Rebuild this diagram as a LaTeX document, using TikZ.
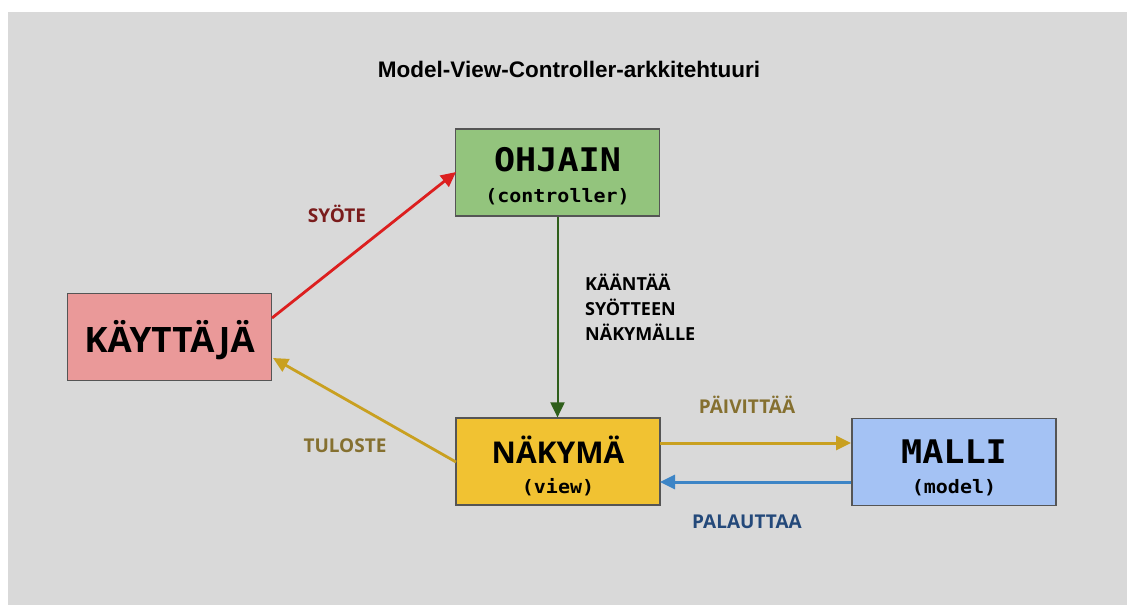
\documentclass[tikz,border=0pt]{standalone}
\usepackage{fontspec}
\setmainfont{Open Sans}
\newfontfamily\titlefont{Liberation Sans}
\newfontfamily\monofont[FakeStretch=1.08]{DejaVu Sans Mono}
\usetikzlibrary{arrows.meta}
\definecolor{bggray}{HTML}{D9D9D9}
\definecolor{ohjfill}{HTML}{93C47D}
\definecolor{kayfill}{HTML}{EA9999}
\definecolor{nakfill}{HTML}{F1C232}
\definecolor{malfill}{HTML}{A4C2F4}
\definecolor{boxline}{HTML}{555555}
\definecolor{redarrow}{HTML}{DC1F1F}
\definecolor{greenarrow}{HTML}{2F5F1B}
\definecolor{goldarrow}{HTML}{C9A020}
\definecolor{bluearrow}{HTML}{3D85C6}
\definecolor{redlabel}{HTML}{7A1C1C}
\definecolor{goldlabel}{HTML}{857030}
\definecolor{bluelabel}{HTML}{24497A}
\begin{document}
\begin{tikzpicture}[x=1pt,y=-1pt,
  box/.style={draw=boxline,line width=1.2pt,minimum width=204pt,minimum height=87pt,inner sep=0pt},
  bigsans/.style={font=\fontsize{35}{40}\selectfont\bfseries,anchor=base,inner sep=0pt},
  midsans/.style={font=\fontsize{30}{34}\selectfont\bfseries,anchor=base,inner sep=0pt},
  bigmono/.style={font=\monofont\fontsize{32.5}{38}\selectfont\bfseries,anchor=base,inner sep=0pt},
  smallmono/.style={font=\monofont\fontsize{18.5}{22}\selectfont\bfseries,anchor=base,inner sep=0pt},
  lbl/.style={font=\fontsize{19}{22}\selectfont\bfseries,anchor=base,inner sep=0pt},
  conn/.style={-{Triangle[length=15pt,width=14pt]}}
]
\useasboundingbox (0,0) rectangle (1127,605);
\fill[white] (0,0) rectangle (1127,605);
\fill[bggray] (8,12) rectangle (1127,605);

\node[font=\titlefont\fontsize{22.5}{26}\selectfont\bfseries,anchor=base,inner sep=0pt] (title) at (569,77) {Model-View-Controller-arkkitehtuuri};

\node[box,fill=ohjfill] (ohj) at (557.5,172.5) {};
\node[box,fill=kayfill] (kay) at (169.5,337) {};
\node[box,fill=nakfill] (nak) at (558,461.5) {};
\node[box,fill=malfill] (mal) at (954,462) {};

\node[bigmono] (ohjt) at (557.5,171) {OHJAIN};
\node[smallmono] (ohjs) at (557.5,202) {(controller)};
\node[bigsans] (kayt) at (169.5,352) {KÄYTTÄJÄ};
\node[midsans] (nakt) at (558,463) {NÄKYMÄ};
\node[smallmono] (naks) at (558,493) {(view)};
\node[bigmono] (malt) at (954,463) {MALLI};
\node[smallmono] (mals) at (954,493) {(model)};

\coordinate (kayout) at (272,318);
\coordinate (ohjin) at (456,172);
\draw[conn,redarrow,line width=2.8pt] (kayout) -- (ohjin);
\draw[conn,greenarrow,line width=2pt] (ohj.south) -- (ohj.south |- nak.north);
\coordinate (nakout) at (456,462);
\coordinate (kayin) at (273,358);
\draw[conn,goldarrow,line width=2.8pt] (nakout) -- (kayin);
\coordinate (nakr1) at (660,443);
\coordinate (malr1) at (851,443);
\draw[conn,goldarrow,line width=3pt] (nakr1) -- (malr1);
\coordinate (malr2) at (851,482);
\coordinate (nakr2) at (660,482);
\draw[conn,bluearrow,line width=3pt] (malr2) -- (nakr2);

\node[lbl,text=redlabel] (syote) at (337,222) {SYÖTE};
\node[lbl,text=goldlabel] (tuloste) at (345,452) {TULOSTE};
\node[lbl,text=goldlabel] (paiv) at (747,413) {PÄIVITTÄÄ};
\node[lbl,text=bluelabel] (pal) at (747,528) {PALAUTTAA};
\node[font=\fontsize{18}{25}\selectfont\bfseries,anchor=north west,align=left,inner sep=0pt] (kaan) at (585,274) {KÄÄNTÄÄ\\SYÖTTEEN\\NÄKYMÄLLE};
\end{tikzpicture}
\end{document}
